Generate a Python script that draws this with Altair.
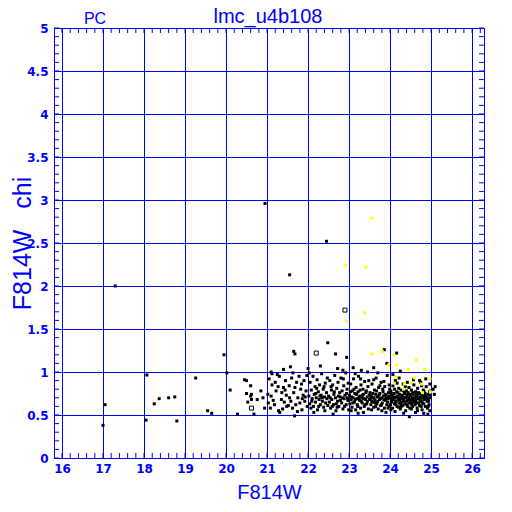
import altair as alt
import pandas as pd

BLUE = "#0000ff"

# ---- data (F814W, chi) ----
sparse_pts = [(17.0, 0.38), (17.05, 0.62), (17.3, 2.0), (18.05, 0.44), (18.07, 0.965),
              (18.25, 0.63), (18.37, 0.69), (18.6, 0.7), (18.75, 0.71), (18.8, 0.43),
              (19.26, 0.93), (19.55, 0.55), (19.65, 0.52), (19.95, 1.2), (20.02, 0.99),
              (20.1, 0.79), (20.28, 0.51), (20.5, 0.9), (20.6, 0.84), (20.5, 0.75),
              (20.62, 0.74), (20.6, 0.72), (20.53, 0.65), (20.62, 0.68), (20.76, 0.68),
              (20.68, 0.51), (20.94, 0.58), (20.45, 0.91), (20.85, 0.78), (20.9, 0.7),
              (20.95, 2.96), (21.55, 2.13), (22.45, 2.52), (22.48, 1.34), (21.65, 1.24),
              (21.68, 1.21), (22.67, 1.21), (22.94, 1.17), (21.57, 1.06), (22.3, 1.07),
              (23.1, 1.05), (22.72, 1.04), (23.3, 1.02), (24.25, 1.01), (23.6, 1.05),
              (23.92, 1.1), (24.16, 1.22), (23.86, 1.26), (21.1, 1.0), (21.4, 1.03),
              (22.0, 1.04), (22.85, 1.02)]

band_21 = [(21.02, 0.74), (21.1, 0.72), (21.05, 0.92), (21.12, 0.85), (21.18, 0.62), (21.22, 0.78),
           (21.28, 0.55), (21.31, 0.53), (21.25, 0.97), (21.35, 0.68), (21.4, 0.82), (21.42, 0.65),
           (21.45, 0.9), (21.48, 0.6), (21.15, 0.67), (21.2, 0.88), (21.36, 0.76), (21.08, 0.58),
           (21.3, 0.95), (21.47, 0.73), (21.38, 0.57), (21.12, 0.98), (21.27, 0.83), (21.44, 0.79),
           (21.03, 0.64), (21.54, 0.84), (21.62, 0.58), (21.67, 0.49), (21.8, 0.64), (21.55, 0.7),
           (21.6, 0.93), (21.65, 0.76), (21.7, 0.62), (21.72, 0.88), (21.75, 0.7), (21.78, 0.95),
           (21.82, 0.8), (21.85, 0.56), (21.88, 0.73), (21.9, 0.9), (21.92, 0.66), (21.95, 0.78),
           (21.98, 0.6), (21.58, 0.66), (21.63, 0.99), (21.68, 0.82), (21.74, 0.54), (21.84, 0.86),
           (21.93, 0.71), (21.97, 0.96), (21.52, 0.61), (21.86, 0.69)]

band_22 = [(22.02, 0.72), (22.04, 0.63), (22.05, 0.88), (22.07, 0.58), (22.08, 0.79), (22.1, 0.69),
           (22.12, 0.95), (22.13, 0.6), (22.15, 0.74), (22.17, 0.83), (22.18, 0.65), (22.2, 0.7),
           (22.22, 0.91), (22.23, 0.56), (22.25, 0.77), (22.27, 0.68), (22.28, 0.85), (22.3, 0.62),
           (22.32, 0.73), (22.33, 0.98), (22.35, 0.66), (22.37, 0.8), (22.38, 0.59), (22.4, 0.71),
           (22.42, 0.87), (22.43, 0.64), (22.45, 0.76), (22.47, 0.93), (22.48, 0.61), (22.03, 0.99),
           (22.14, 0.53), (22.21, 0.81), (22.26, 0.6), (22.34, 0.7), (22.41, 0.55), (22.46, 0.69),
           (22.09, 0.66), (22.19, 0.75), (22.29, 0.72), (22.39, 0.83),
           (22.5, 0.72), (22.52, 0.65), (22.53, 0.9), (22.55, 0.58), (22.57, 0.79), (22.58, 0.68),
           (22.6, 0.85), (22.62, 0.62), (22.63, 0.74), (22.65, 0.96), (22.67, 0.7), (22.68, 0.55),
           (22.7, 0.81), (22.72, 0.66), (22.73, 0.88), (22.75, 0.6), (22.77, 0.76), (22.78, 0.71),
           (22.8, 0.93), (22.82, 0.64), (22.83, 0.78), (22.85, 0.57), (22.87, 0.84), (22.88, 0.69),
           (22.9, 0.73), (22.92, 0.99), (22.93, 0.62), (22.95, 0.8), (22.97, 0.67), (22.98, 0.87),
           (22.54, 0.7), (22.59, 0.6), (22.64, 0.77), (22.69, 0.63), (22.74, 0.72), (22.79, 0.67),
           (22.84, 0.7), (22.89, 0.6), (22.94, 0.75), (22.99, 0.56), (22.56, 0.83), (22.71, 0.59),
           (22.86, 0.92), (22.61, 0.51), (22.96, 0.7)]

band_23 = [(23.01, 0.73), (23.02, 0.63), (23.04, 0.86), (23.05, 0.68), (23.07, 0.59), (23.08, 0.78),
           (23.1, 0.7), (23.11, 0.92), (23.13, 0.65), (23.14, 0.75), (23.16, 0.56), (23.17, 0.82),
           (23.19, 0.69), (23.2, 0.62), (23.22, 0.77), (23.23, 0.95), (23.25, 0.67), (23.26, 0.72),
           (23.28, 0.58), (23.29, 0.85), (23.31, 0.7), (23.32, 0.64), (23.34, 0.8), (23.35, 0.74),
           (23.37, 0.6), (23.38, 0.89), (23.4, 0.68), (23.41, 0.76), (23.43, 0.63), (23.44, 0.71),
           (23.46, 0.83), (23.47, 0.57), (23.49, 0.73), (23.03, 0.77), (23.06, 0.71), (23.09, 0.64),
           (23.12, 0.8), (23.15, 0.68), (23.18, 0.74), (23.21, 0.6), (23.24, 0.7), (23.27, 0.79),
           (23.3, 0.66), (23.33, 0.73), (23.36, 0.69), (23.39, 0.62), (23.42, 0.78), (23.45, 0.66),
           (23.48, 0.9), (23.15, 0.98), (23.35, 0.53), (23.22, 0.52), (23.45, 1.0), (23.05, 0.55),
           (23.28, 0.92),
           (23.5, 0.68), (23.51, 0.76), (23.53, 0.62), (23.54, 0.72), (23.56, 0.86), (23.57, 0.65),
           (23.59, 0.7), (23.6, 0.59), (23.62, 0.79), (23.63, 0.67), (23.65, 0.74), (23.66, 0.93),
           (23.68, 0.63), (23.69, 0.71), (23.71, 0.57), (23.72, 0.82), (23.74, 0.68), (23.75, 0.75),
           (23.77, 0.61), (23.78, 0.88), (23.8, 0.7), (23.81, 0.64), (23.83, 0.77), (23.84, 0.72),
           (23.86, 0.58), (23.87, 0.83), (23.89, 0.67), (23.9, 0.73), (23.92, 0.62), (23.93, 0.96),
           (23.95, 0.69), (23.96, 0.76), (23.98, 0.6), (23.99, 0.8), (23.52, 0.69), (23.55, 0.66),
           (23.58, 0.75), (23.61, 0.7), (23.64, 0.64), (23.67, 0.78), (23.7, 0.66), (23.73, 0.73),
           (23.76, 0.69), (23.79, 0.62), (23.82, 0.8), (23.85, 0.68), (23.88, 0.74), (23.91, 0.7),
           (23.94, 0.65), (23.97, 0.72), (23.6, 0.91), (23.7, 0.99), (23.8, 0.55), (23.9, 0.53),
           (23.75, 0.84), (23.55, 0.56), (23.65, 0.6), (23.85, 0.89), (23.95, 0.58), (23.98, 0.85)]

band_24 = [(24.0, 0.7), (24.01, 0.62), (24.02, 0.78), (24.03, 0.66), (24.05, 0.73), (24.06, 0.58),
           (24.07, 0.84), (24.08, 0.68), (24.1, 0.75), (24.11, 0.63), (24.12, 0.7), (24.13, 0.9),
           (24.15, 0.66), (24.16, 0.77), (24.17, 0.6), (24.18, 0.72), (24.2, 0.68), (24.21, 0.81),
           (24.22, 0.64), (24.23, 0.74), (24.25, 0.57), (24.26, 0.7), (24.27, 0.79), (24.28, 0.65),
           (24.3, 0.72), (24.31, 0.61), (24.32, 0.86), (24.33, 0.68), (24.35, 0.75), (24.36, 0.63),
           (24.37, 0.7), (24.38, 0.55), (24.4, 0.78), (24.41, 0.66), (24.42, 0.73), (24.43, 0.6),
           (24.45, 0.69), (24.46, 0.82), (24.47, 0.64), (24.48, 0.74), (24.04, 0.65), (24.09, 0.71),
           (24.14, 0.62), (24.19, 0.76), (24.24, 0.67), (24.29, 0.73), (24.34, 0.66), (24.39, 0.71),
           (24.44, 0.76), (24.49, 0.67), (24.02, 0.56), (24.12, 0.54), (24.22, 0.93), (24.27, 0.6),
           (24.33, 0.52), (24.42, 0.88), (24.47, 0.48), (24.07, 0.97), (24.17, 0.87), (24.37, 0.83),
           (24.06, 0.69), (24.16, 0.71), (24.26, 0.63), (24.36, 0.76), (24.46, 0.7), (24.11, 0.8),
           (24.21, 0.59), (24.31, 0.69), (24.41, 0.62), (24.03, 0.75), (24.13, 0.66), (24.23, 0.7),
           (24.33, 0.78), (24.43, 0.68), (24.48, 0.58),
           (24.5, 0.72), (24.51, 0.64), (24.52, 0.79), (24.53, 0.68), (24.55, 0.6), (24.56, 0.74),
           (24.57, 0.66), (24.58, 0.85), (24.6, 0.7), (24.61, 0.62), (24.62, 0.77), (24.63, 0.67),
           (24.65, 0.73), (24.66, 0.58), (24.67, 0.81), (24.68, 0.69), (24.7, 0.64), (24.71, 0.75),
           (24.72, 0.61), (24.73, 0.71), (24.75, 0.88), (24.76, 0.66), (24.77, 0.73), (24.78, 0.56),
           (24.8, 0.7), (24.81, 0.79), (24.82, 0.63), (24.83, 0.68), (24.85, 0.75), (24.86, 0.6),
           (24.87, 0.72), (24.88, 0.83), (24.9, 0.66), (24.91, 0.58), (24.92, 0.74), (24.93, 0.69),
           (24.95, 0.62), (24.96, 0.77), (24.97, 0.55), (24.98, 0.7), (24.54, 0.7), (24.59, 0.65),
           (24.64, 0.71), (24.69, 0.76), (24.74, 0.68), (24.79, 0.64), (24.84, 0.72), (24.89, 0.7),
           (24.94, 0.66), (24.99, 0.78), (24.52, 0.57), (24.62, 0.53), (24.72, 0.9), (24.82, 0.52),
           (24.92, 0.51), (24.57, 0.91), (24.67, 0.55), (24.77, 0.84), (24.87, 0.92), (24.97, 0.86),
           (24.53, 0.62), (24.63, 0.74), (24.73, 0.66), (24.83, 0.77), (24.93, 0.6), (24.56, 0.68),
           (24.66, 0.72), (24.76, 0.6), (24.86, 0.69), (24.96, 0.73), (25.05, 0.8), (25.08, 0.74),
           (25.1, 0.83), (24.55, 0.76), (24.65, 0.64)]

hollow_pts = [(22.9, 1.72), (22.2, 1.22), (20.62, 0.58)]

yellow_pts = [(23.55, 2.79), (22.92, 2.24), (23.41, 2.22), (23.38, 1.69), (22.94, 1.59),
              (23.55, 1.21), (23.81, 1.24), (24.09, 1.2), (24.64, 1.14), (23.96, 1.08),
              (24.16, 1.08), (24.45, 1.03), (24.84, 1.03), (24.97, 0.92), (24.14, 0.94),
              (24.1, 0.87), (24.35, 0.86), (24.5, 0.87), (24.6, 0.93), (24.77, 0.86),
              (24.98, 0.77), (24.79, 0.76), (24.33, 0.8)]

x_major = list(range(16, 27))
y_major = [0, 0.5, 1, 1.5, 2, 2.5, 3, 3.5, 4, 4.5, 5]
x_minor = [round(16 + 0.2 * i, 2) for i in range(52)]
y_minor = [round(0.1 * i, 2) for i in range(51)]

XDOM = [15.805, 26.29]
YDOM = [0, 5]
W = H = 430

black = pd.DataFrame(sparse_pts + band_21 + band_22 + band_23 + band_24, columns=["mag", "chi"])
hollow = pd.DataFrame(hollow_pts, columns=["mag", "chi"])
yellow = pd.DataFrame(yellow_pts, columns=["mag", "chi"])

xs = alt.Scale(domain=XDOM, nice=False, zero=False)
ys = alt.Scale(domain=YDOM, nice=False, zero=False)

lab = dict(labelColor=BLUE, labelFont="DejaVu Sans", labelFontWeight="bold",
           labelFontSize=12, ticks=False, domain=False, grid=True,
           gridColor=BLUE, gridWidth=1, gridOpacity=1)

xaxis = alt.Axis(values=x_major, labelPadding=5, title="F814W", titleColor=BLUE,
                 titleFont="Liberation Sans", titleFontSize=20, titleFontWeight="normal",
                 titleY=40, titleBaseline="alphabetic", format="d", **lab)
yaxis = alt.Axis(values=y_major, labelPadding=6, title="F814W\u00a0\u00a0\u00a0chi", titleColor=BLUE,
                 titleFont="Liberation Sans", titleFontSize=25, titleFontWeight="normal",
                 titleX=-32, titleY=H / 2, titleAngle=270, titleAlign="center",
                 titleBaseline="middle", format="~g", **lab)

base_pts = alt.Chart(black).mark_square(size=9, color="black", opacity=1).encode(
    x=alt.X("mag:Q", scale=xs, axis=xaxis),
    y=alt.Y("chi:Q", scale=ys, axis=yaxis),
)
hollow_layer = alt.Chart(hollow).mark_square(size=16, filled=False, stroke="black",
                                             strokeWidth=1, opacity=1).encode(
    x=alt.X("mag:Q", scale=xs), y=alt.Y("chi:Q", scale=ys))
yellow_layer = alt.Chart(yellow).mark_square(size=9, color="#ffff00", opacity=1).encode(
    x=alt.X("mag:Q", scale=xs), y=alt.Y("chi:Q", scale=ys))

xm = pd.DataFrame({"v": x_minor})
ym = pd.DataFrame({"v": y_minor})
tb = alt.Chart(xm).mark_rule(color=BLUE, strokeWidth=1).encode(
    x=alt.X("v:Q", scale=xs), y=alt.value(H), y2=alt.value(H - 5))
tt = alt.Chart(xm).mark_rule(color=BLUE, strokeWidth=1).encode(
    x=alt.X("v:Q", scale=xs), y=alt.value(0), y2=alt.value(5))
tl = alt.Chart(ym).mark_rule(color=BLUE, strokeWidth=1).encode(
    y=alt.Y("v:Q", scale=ys), x=alt.value(0), x2=alt.value(5))
tr = alt.Chart(ym).mark_rule(color=BLUE, strokeWidth=1).encode(
    y=alt.Y("v:Q", scale=ys), x=alt.value(W), x2=alt.value(W - 5))

titles = pd.DataFrame({"t": ["lmc_u4b108"]})
pcs = pd.DataFrame({"t": ["PC"]})
title_layer = alt.Chart(titles).mark_text(font="Liberation Sans", fontSize=20, color=BLUE,
                                          align="center", baseline="alphabetic").encode(
    text="t:N", x=alt.value(W / 2 - 1), y=alt.value(-5))
pc_layer = alt.Chart(pcs).mark_text(font="Liberation Sans", fontSize=16, color=BLUE,
                                    align="center", baseline="alphabetic").encode(
    text="t:N", x=alt.value(41), y=alt.value(-4))

chart = alt.layer(base_pts, tb, tt, tl, tr, hollow_layer, yellow_layer, title_layer, pc_layer).properties(
    width=W, height=H,
    autosize=alt.AutoSizeParams(type="none"),
    padding={"left": 46, "top": 20, "right": 20, "bottom": 46},
    background="white",
).configure_view(stroke=BLUE, strokeWidth=1)

chart.save("out.html", embed_options={"renderer": "svg", "actions": False})
